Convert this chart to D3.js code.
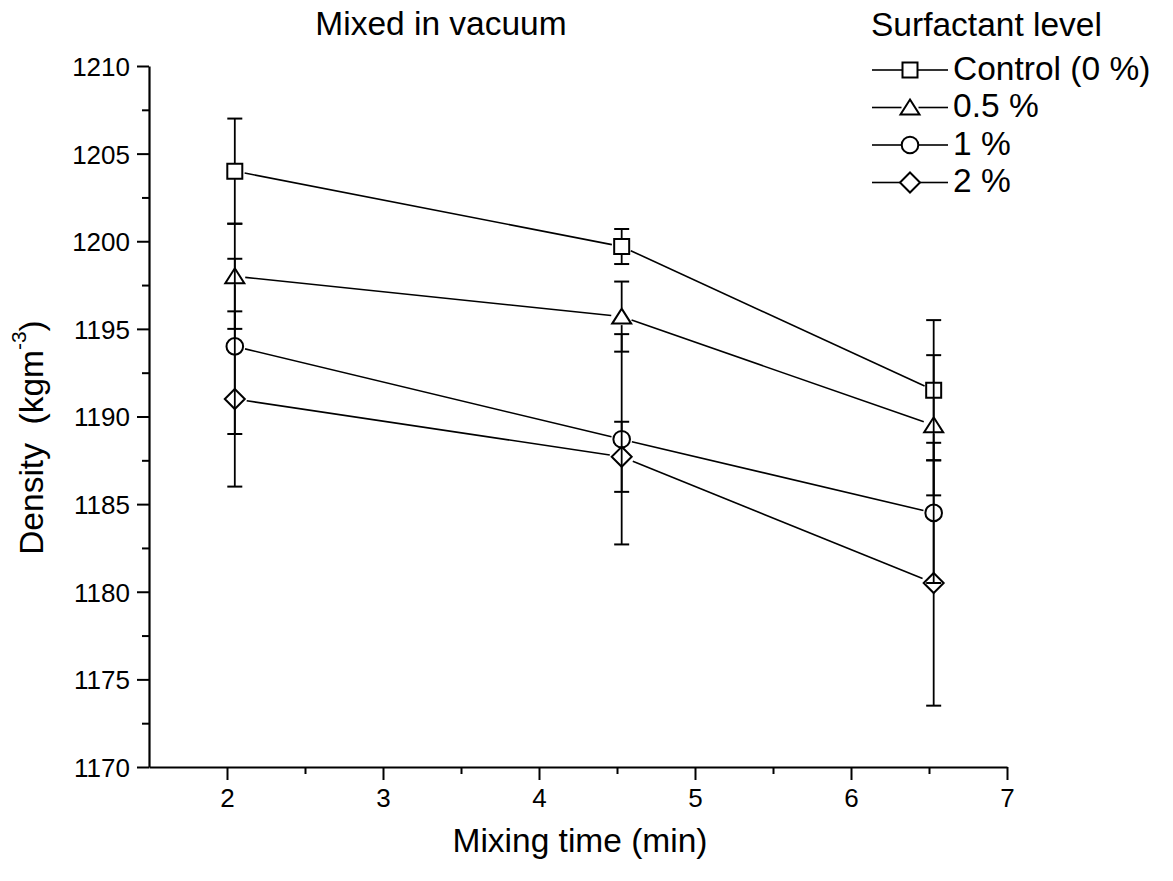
<!DOCTYPE html>
<html>
<head>
<meta charset="utf-8">
<script src="https://cdn.jsdelivr.net/npm/d3@7"></script>
<style>
  html, body { margin: 0; padding: 0; background: #fff; }
  svg { display: block; }
  text { font-family: "Liberation Sans", Arial, Helvetica, sans-serif; fill: #000; }
</style>
</head>
<body>
<svg id="chart" width="1173" height="881"></svg>
<script>
// ---- data ----
const mixingTime = [2.05, 4.53, 6.53];
const seriesNames = ["Control (0 %)", "0.5 %", "1 %", "2 %"];
const seriesSymbols = ["square", "triangle", "circle", "diamond"];
const controlDensity = [1204, 1199.7, 1191.5];
const controlError   = [3, 1, 4];
const half05Density  = [1198, 1195.7, 1189.5];
const half05Error    = [3, 2, 4];
const one1Density    = [1194, 1188.7, 1184.5];
const one1Error      = [5, 6, 4];
const two2Density    = [1191, 1187.7, 1180.5];
const two2Error      = [5, 2, 7];
const xTickValues = [2, 3, 4, 5, 6, 7];
const xMinorValues = [2.5, 3.5, 4.5, 5.5, 6.5];
const yTickValues = [1170, 1175, 1180, 1185, 1190, 1195, 1200, 1205, 1210];
const yMinorValues = [1172.5, 1177.5, 1182.5, 1187.5, 1192.5, 1197.5, 1202.5, 1207.5];
const chartTitle = "Mixed in vacuum";
const xTitle = "Mixing time (min)";
const legendTitle = "Surfactant level";

const series = [
  { name: seriesNames[0], sym: seriesSymbols[0], v: controlDensity, e: controlError },
  { name: seriesNames[1], sym: seriesSymbols[1], v: half05Density, e: half05Error },
  { name: seriesNames[2], sym: seriesSymbols[2], v: one1Density, e: one1Error },
  { name: seriesNames[3], sym: seriesSymbols[3], v: two2Density, e: two2Error }
];

const svg = d3.select("#chart");
const x = d3.scaleLinear().domain([1.5, 7]).range([149, 1007]);
const y = d3.scaleLinear().domain([1170, 1210]).range([767, 66]);

const FS_TICK = 26, FS_BIG = 33.5;

// ---- axes ----
const gx = svg.append("g").attr("transform", `translate(0,${y(1170)})`);
gx.call(d3.axisBottom(x).tickValues(xTickValues).tickSize(13).tickSizeOuter(0).tickPadding(9).tickFormat(d3.format("d")));
gx.append("g").call(d3.axisBottom(x).tickValues(xMinorValues).tickSize(7).tickFormat(""));
gx.selectAll("g > g > path.domain").remove();

const gy = svg.append("g").attr("transform", `translate(${x(1.5)},0)`);
gy.call(d3.axisLeft(y).tickValues(yTickValues).tickSize(12).tickSizeOuter(0).tickPadding(7).tickFormat(d3.format("d")));
gy.append("g").call(d3.axisLeft(y).tickValues(yMinorValues).tickSize(7).tickFormat(""));
gy.selectAll("g > g > path.domain").remove();

svg.selectAll(".domain").attr("stroke", "#000").attr("stroke-width", 2.2);
svg.selectAll(".tick line").attr("stroke", "#000").attr("stroke-width", 2);
svg.selectAll(".tick text").style("font-size", FS_TICK + "px").style("font-family", '"Liberation Sans", Arial, sans-serif');
gy.selectAll(".tick text").attr("dy", "0.36em");

// ---- titles ----
svg.append("text").attr("x", 441).attr("y", 23).attr("text-anchor", "middle")
  .attr("dominant-baseline", "central").style("font-size", FS_BIG + "px").text(chartTitle);
svg.append("text").attr("x", 580).attr("y", 840).attr("text-anchor", "middle")
  .attr("dominant-baseline", "central").style("font-size", FS_BIG + "px").text(xTitle);
const yt = svg.append("text").attr("transform", `translate(31,${y(1188.8)}) rotate(-90)`)
  .attr("text-anchor", "middle").attr("dominant-baseline", "central").style("font-size", FS_BIG + "px");
yt.append("tspan").text("Density\u00a0\u00a0(kgm");
yt.append("tspan").attr("dy", -13).style("font-size", "21px").text("-3");
yt.append("tspan").attr("dy", 13).text(")");

// ---- marker shapes ----
function symbolPath(sym, cx, cy) {
  const p = d3.path();
  if (sym === "square") { p.rect(cx - 7.5, cy - 7.5, 15, 15); }
  else if (sym === "triangle") { p.moveTo(cx, cy - 8); p.lineTo(cx + 9.5, cy + 7); p.lineTo(cx - 9.5, cy + 7); p.closePath(); }
  else if (sym === "circle") { p.arc(cx, cy, 8.3, 0, 2 * Math.PI); p.closePath(); }
  else { p.moveTo(cx, cy - 10); p.lineTo(cx + 10, cy); p.lineTo(cx, cy + 10); p.lineTo(cx - 10, cy); p.closePath(); }
  return p.toString();
}
const gapR = { square: 8, triangle: 8.5, circle: 8.5, diamond: 10 };

const plot = svg.append("g");
series.forEach(s => {
  const pts = s.v.map((v, i) => [x(mixingTime[i]), y(v)]);
  const r = gapR[s.sym];
  // connecting lines with gaps at markers
  for (let i = 0; i < pts.length - 1; i++) {
    const [x1, y1] = pts[i], [x2, y2] = pts[i + 1];
    const len = Math.hypot(x2 - x1, y2 - y1), ux = (x2 - x1) / len, uy = (y2 - y1) / len;
    plot.append("line")
      .attr("x1", x1 + ux * (r + 2)).attr("y1", y1 + uy * (r + 2))
      .attr("x2", x2 - ux * (r + 2)).attr("y2", y2 - uy * (r + 2))
      .attr("stroke", "#000").attr("stroke-width", 1.6);
  }
  // error bars, drawn outward from the marker edge
  s.v.forEach((v, i) => {
    const cx = x(mixingTime[i]), cy = y(v);
    const top = y(v + s.e[i]), bot = y(v - s.e[i]);
    plot.append("line").attr("x1", cx).attr("x2", cx).attr("y1", top).attr("y2", cy - r)
      .attr("stroke", "#000").attr("stroke-width", 1.8);
    plot.append("line").attr("x1", cx).attr("x2", cx).attr("y1", cy + r).attr("y2", bot)
      .attr("stroke", "#000").attr("stroke-width", 1.8);
    [top, bot].forEach(yy => plot.append("line").attr("x1", cx - 7.5).attr("x2", cx + 7.5)
      .attr("y1", yy).attr("y2", yy).attr("stroke", "#000").attr("stroke-width", 2));
  });
  pts.forEach(([cx, cy]) => plot.append("path").attr("d", symbolPath(s.sym, cx, cy))
    .attr("fill", "none").attr("stroke", "#000").attr("stroke-width", 2));
});

// ---- legend ----
const lg = svg.append("g");
lg.append("text").attr("x", 871).attr("y", 24).attr("dominant-baseline", "central")
  .style("font-size", FS_BIG + "px").text(legendTitle);
series.forEach((s, i) => {
  const ly = 70 + i * 37.5, r = gapR[s.sym];
  lg.append("line").attr("x1", 872).attr("x2", 910 - r).attr("y1", ly).attr("y2", ly)
    .attr("stroke", "#000").attr("stroke-width", 1.6);
  lg.append("line").attr("x1", 910 + r).attr("x2", 948).attr("y1", ly).attr("y2", ly)
    .attr("stroke", "#000").attr("stroke-width", 1.6);
  lg.append("path").attr("d", symbolPath(s.sym, 910, ly)).attr("fill", "none")
    .attr("stroke", "#000").attr("stroke-width", 2);
  lg.append("text").attr("x", 953).attr("y", ly - 2).attr("dominant-baseline", "central")
    .style("font-size", FS_BIG + "px").text(s.name);
});
</script>
</body>
</html>
